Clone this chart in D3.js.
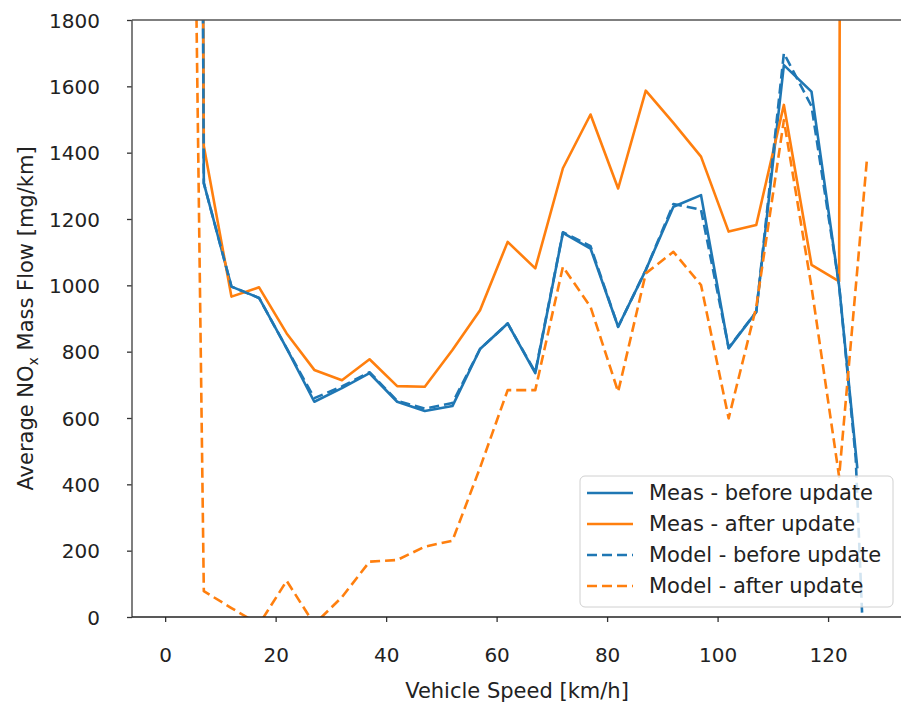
<!DOCTYPE html>
<html>
<head>
<meta charset="utf-8">
<script src="https://cdn.jsdelivr.net/npm/d3@7"></script>
<style>
  body { margin: 0; background: #fff; }
  text { font-family: "DejaVu Sans", sans-serif; fill: #222; }
</style>
</head>
<body>
<div id="chart"></div>
<script>
// speed bins (km/h) shared by all four series, last bin is listed per series
const speeds = [2, 7, 12, 17, 22, 27, 32, 37, 42, 47, 52, 57, 62, 67, 72, 77, 82, 87, 92, 97, 102, 107, 112, 117, 122];

const measBefore = [20000, 1308, 996, 962, 810, 649, 690, 735, 649, 621, 636, 808, 885, 735, 1158, 1111, 875, 1046, 1237, 1272, 810, 920, 1664, 1584, 998];
const measBeforeTail = [[125.3, 448]];

const measAfter = [20000, 1420, 966, 994, 855, 745, 714, 777, 696, 694, 805, 925, 1131, 1051, 1353, 1515, 1292, 1587, 1490, 1388, 1162, 1182, 1544, 1062, 1012];
const measAfterTail = [[127, 40000]];

const modelBefore = [20000, 1308, 996, 962, 810, 660, 695, 738, 652, 628, 645, 808, 885, 738, 1160, 1118, 875, 1046, 1245, 1228, 812, 920, 1700, 1540, 1000];
const modelBeforeTail = [[125, 480], [127, -330]];

const modelAfter = [6600, 78, 27, -22, 109, -22, 60, 167, 172, 212, 230, 450, 684, 684, 1056, 935, 679, 1036, 1101, 1001, 599, 935, 1498, 995, 423];
const modelAfterTail = [[127, 1373]];

const xTicks = [0, 20, 40, 60, 80, 100, 120];
const yTicks = [0, 200, 400, 600, 800, 1000, 1200, 1400, 1600, 1800];

const series = [
  { label: "Meas - before update", values: measBefore, tail: measBeforeTail, color: "#1f77b4", dash: null },
  { label: "Meas - after update", values: measAfter, tail: measAfterTail, color: "#ff7f0e", dash: null },
  { label: "Model - before update", values: modelBefore, tail: modelBeforeTail, color: "#1f77b4", dash: "10,5" },
  { label: "Model - after update", values: modelAfter, tail: modelAfterTail, color: "#ff7f0e", dash: "10,5" },
];

const width = 901,
  height = 704,
  plotLeft = 132,
  plotTop = 20,
  plotBottom = 617;

const svg = d3
  .select("#chart")
  .append("svg")
  .attr("width", width)
  .attr("height", height);

const x = d3.scaleLinear().domain([-6, 133.2]).range([plotLeft, width]);
const y = d3.scaleLinear().domain([0, 1800]).range([plotBottom, plotTop]);

svg
  .append("clipPath")
  .attr("id", "plot-clip")
  .append("rect")
  .attr("x", plotLeft)
  .attr("y", plotTop)
  .attr("width", width - plotLeft)
  .attr("height", plotBottom - plotTop);

// axes
const xAxis = svg
  .append("g")
  .attr("transform", `translate(0,${plotBottom})`)
  .call(d3.axisBottom(x).tickValues(xTicks).tickFormat(d3.format("d")).tickSize(5).tickPadding(26));

const yAxis = svg
  .append("g")
  .attr("transform", `translate(${plotLeft},0)`)
  .call(d3.axisLeft(y).tickValues(yTicks).tickFormat(d3.format("d")).tickSize(5).tickPadding(27));

[xAxis, yAxis].forEach((g) => {
  g.select(".domain").remove();
  g.selectAll(".tick line").attr("stroke", "#333").attr("stroke-width", 1.3);
  g.selectAll(".tick text")
    .attr("font-size", "20px")
    .attr("font-family", "DejaVu Sans")
    .attr("fill", "#222");
});
yAxis.selectAll(".tick text").attr("dy", "0.36em");

// lines
const line = d3
  .line()
  .x((d) => x(d[0]))
  .y((d) => y(d[1]));

const plot = svg.append("g").attr("clip-path", "url(#plot-clip)");

series.forEach((s) => {
  const pts = speeds.map((v, i) => [v, s.values[i]]).concat(s.tail);
  plot
    .append("path")
    .datum(pts)
    .attr("fill", "none")
    .attr("stroke", s.color)
    .attr("stroke-width", 2.6)
    .attr("stroke-dasharray", s.dash)
    .attr("stroke-linejoin", "round")
    .attr("d", line);
});

// spines
svg.append("line").attr("x1", plotLeft).attr("x2", width).attr("y1", plotTop).attr("y2", plotTop)
  .attr("stroke", "#555").attr("stroke-width", 1.5);
svg.append("line").attr("x1", plotLeft).attr("x2", plotLeft).attr("y1", plotTop).attr("y2", plotBottom)
  .attr("stroke", "#555").attr("stroke-width", 1.5);
svg.append("line").attr("x1", plotLeft).attr("x2", width).attr("y1", plotBottom).attr("y2", plotBottom)
  .attr("stroke", "#222").attr("stroke-width", 1.6);

// axis labels
svg
  .append("text")
  .attr("text-anchor", "middle")
  .attr("font-size", "21px")
  .attr("x", 517)
  .attr("y", 698)
  .text("Vehicle Speed [km/h]");

const yLabel = svg
  .append("text")
  .attr("text-anchor", "middle")
  .attr("font-size", "21px")
  .attr("transform", `translate(33,${(plotTop + plotBottom) / 2}) rotate(-90)`);
yLabel.append("tspan").text("Average NO");
yLabel.append("tspan").attr("font-size", "14px").attr("dy", "5").text("x");
yLabel.append("tspan").attr("dy", "-5").text(" Mass Flow [mg/km]");

// legend
const legend = svg.append("g").attr("transform", "translate(580,476)");
legend
  .append("rect")
  .attr("width", 313)
  .attr("height", 131)
  .attr("rx", 5)
  .attr("fill", "#fff")
  .attr("fill-opacity", 0.8)
  .attr("stroke", "#d0d0d0");

series.forEach((s, i) => {
  const row = legend.append("g").attr("transform", `translate(0,${17 + i * 31})`);
  row
    .append("line")
    .attr("x1", 7)
    .attr("x2", 53)
    .attr("stroke", s.color)
    .attr("stroke-width", 2.6)
    .attr("stroke-dasharray", s.dash);
  row
    .append("text")
    .attr("x", 69)
    .attr("dy", "0.35em")
    .attr("font-size", "21px")
    .text(s.label);
});
</script>
</body>
</html>
